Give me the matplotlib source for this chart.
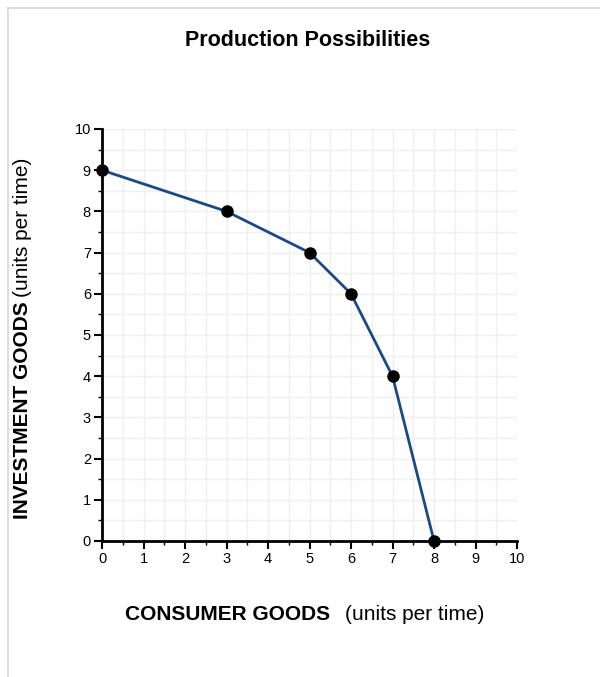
import numpy as np
from matplotlib import pyplot as plt
from matplotlib.lines import Line2D

plt.rcParams['font.family'] = ['Liberation Sans', 'DejaVu Sans']

# 生产可能性边界上的点
consumer = [0, 3, 5, 6, 7, 8]
investment = [9, 8, 7, 6, 4, 0]
ticks = list(range(0, 11))

fig = plt.figure(figsize=(6, 6.77), dpi=100)

# 外框（浅灰）
fig.add_artist(Line2D([8 / 600, 8 / 600], [0, 1 - 8 / 677], color='#dddddd', lw=1.5))
fig.add_artist(Line2D([8 / 600, 1], [1 - 8 / 677, 1 - 8 / 677], color='#dddddd', lw=1.5))

ax = fig.add_axes([0.17, 0.2009, 0.6917, 0.6086])
ax.set_xlim(0, 10)
ax.set_ylim(0, 10)

ax.set_xticks(ticks)
ax.set_yticks(ticks)
ax.set_xticks(np.arange(0.5, 10, 1), minor=True)
ax.set_yticks(np.arange(0.5, 10, 1), minor=True)
ax.grid(which='both', color='#efefef', lw=1)
ax.set_axisbelow(True)

ax.spines['top'].set_visible(False)
ax.spines['right'].set_visible(False)
ax.spines['left'].set_linewidth(2)
ax.spines['bottom'].set_linewidth(2)
ax.tick_params(which='major', length=6, width=1.5, labelsize=10.5, pad=2)
ax.tick_params(which='minor', length=3, width=1)

ax.plot(consumer, investment, color='#1a4a86', lw=2, zorder=3)
ax.plot(consumer, investment, 'o', color='black', ms=8, zorder=4, clip_on=False)

# 标题与坐标轴标签
fig.text(0.513, 0.940, 'Production Possibilities', ha='center', va='center',
         fontsize=15.5, fontweight='bold')
fig.text(0.55, 0.093, 'CONSUMER GOODS', ha='right', va='center', fontsize=15, fontweight='bold')
fig.text(0.575, 0.093, '(units per time)', ha='left', va='center', fontsize=15)
fig.text(0.037, 0.233, 'INVESTMENT GOODS', ha='center', va='bottom', rotation=90,
         fontsize=15, fontweight='bold')
fig.text(0.037, 0.561, '(units per time)', ha='center', va='bottom', rotation=90, fontsize=15)

plt.savefig('out.png', dpi=100)
plt.close()
